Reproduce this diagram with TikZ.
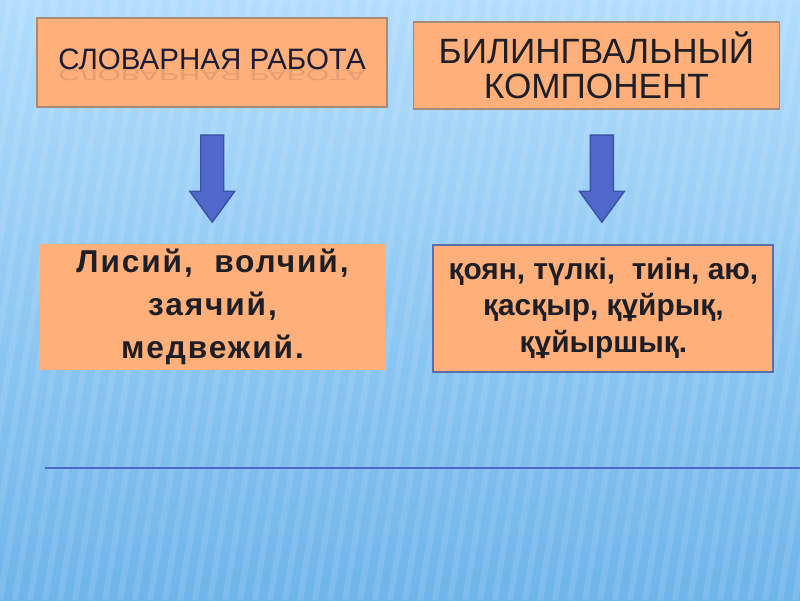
\documentclass[tikz,border=0pt]{standalone}
\usepackage{fontspec}
\setmainfont{Liberation Sans}
\newfontfamily\spacedfont[LetterSpace=6]{Liberation Sans}
\usepackage{tikz}
\usetikzlibrary{positioning, calc}
\definecolor{bgTop}{HTML}{B2DDFC}
\definecolor{bgBottom}{HTML}{6FB5EA}
\definecolor{peachBox}{HTML}{FFB07A}
\definecolor{peachEdge}{HTML}{A98A74}
\definecolor{slateEdge}{HTML}{5A6EA8}
\definecolor{arrowBlue}{HTML}{5068CA}
\definecolor{arrowEdge}{HTML}{3A52A6}
\definecolor{inkNavy}{HTML}{1A1C38}
\definecolor{inkDark}{HTML}{1E1E26}
\definecolor{ruleBlue}{HTML}{4A6AC6}

\begin{document}
\begin{tikzpicture}[
  every node/.style={text=inkDark},
  headbox/.style={draw=peachEdge, line width=0.8pt, fill=peachBox, align=center},
  wordbox/.style={fill=peachBox, align=center, inner ysep=0pt},
  blockarrow/.style={fill=arrowBlue, draw=arrowEdge, line width=0.8pt, line join=miter},
  stripe/.style={white, opacity=0.10, line width=3.5pt}]

  \useasboundingbox (0,0) rectangle (16,12);

  %% ═══════════════════════════════════════════════════════════════
  %% BACKGROUND
  %% ═══════════════════════════════════════════════════════════════

  \fill[top color=bgTop, bottom color=bgBottom] (0,0) rectangle (16,12);
  \begin{scope}
    \clip (0,0) rectangle (16,12);
    \foreach \x in {-3,-2.7,...,16.2}
      \draw[stripe] (\x,0) -- (\x+2,12);
  \end{scope}

  %% ═══════════════════════════════════════════════════════════════
  %% ROW 1: HEADINGS
  %% ═══════════════════════════════════════════════════════════════

  \node[headbox, minimum width=7.0cm, minimum height=1.78cm] (slovo) at (4.24,10.75) {};
  \node[text=inkNavy, font=\fontsize{16.8}{19}\selectfont, anchor=base]
      (slovotxt) at ($(slovo.center)+(0,-0.15)$) {СЛОВАРНАЯ РАБОТА};
  \begin{scope}[shift={(slovotxt.base)}, yscale=-0.55]
    \node[text=inkNavy, font=\fontsize{16.8}{19}\selectfont, anchor=base,
          transform shape, opacity=0.12] (slovorefl) at (0,0) {СЛОВАРНАЯ РАБОТА};
  \end{scope}

  \node[headbox, minimum width=7.32cm, minimum height=1.74cm, right=0.5cm of slovo, yshift=-0.06cm,
        font=\fontsize{20}{20}\selectfont]
      (bilin) {БИЛИНГВАЛЬНЫЙ\\КОМПОНЕНТ};

  %% ═══════════════════════════════════════════════════════════════
  %% ROW 2: WORD LISTS
  %% ═══════════════════════════════════════════════════════════════

  \node[wordbox, minimum width=6.9cm, minimum height=2.52cm, below=2.72cm of slovo, xshift=0.01cm,
        font=\spacedfont\bfseries\fontsize{18}{24.5}\selectfont]
      (rus) {Лисий,\ \ волчий,\\заячий,\\медвежий.};

  \node[wordbox, draw=slateEdge, line width=1.2pt, minimum width=6.8cm, minimum height=2.54cm,
        below=2.68cm of bilin, xshift=0.14cm,
        font=\bfseries\fontsize{17}{20.8}\selectfont]
      (kaz) {қоян, түлкі,\ \ тиін, аю,\\қасқыр, құйрық,\\құйыршық.};

  %% block arrows between the rows
  \coordinate (arrL) at ($(slovo.south)!0.5!(rus.north)+(0,-0.06)$);
  \coordinate (arrR) at ($(bilin.south)!0.5!(kaz.north)+(0.04,-0.04)$);
  \foreach \a in {arrL, arrR}
    \draw[blockarrow] ($(\a)+(-0.23,0.87)$) -- ++(0.46,0) -- ++(0,-1.12) -- ++(0.22,0)
        -- ++(-0.45,-0.62) -- ++(-0.45,0.62) -- ++(0.22,0) -- cycle;

  %% ═══════════════════════════════════════════════════════════════
  %% FOOTER RULE
  %% ═══════════════════════════════════════════════════════════════

  \coordinate (ruleL) at (0.9,2.64);
  \coordinate (ruleR) at (16,2.64);
  \draw[ruleBlue, line width=1.2pt] (ruleL) -- (ruleR);

\end{tikzpicture}
\end{document}
